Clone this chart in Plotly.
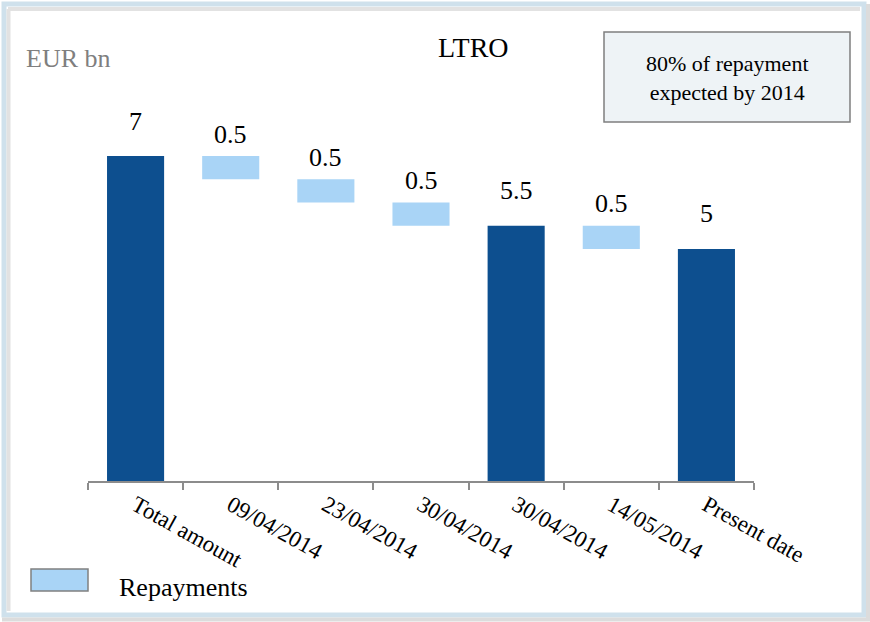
import plotly.graph_objects as go

# category labels (positions 0..6 on the x axis)
categories = ["Total amount", "09/04/2014", "23/04/2014", "30/04/2014",
              "30/04/2014", "14/05/2014", "Present date"]

# stock bars (start from zero)
stock_idx = [0, 4, 6]
stock_values = [7, 5.5, 5]

# repayment bars (floating)
repay_idx = [1, 2, 3, 5]
repay_base = [6.5, 6.0, 5.5, 5.0]
repay_values = [0.5, 0.5, 0.5, 0.5]

DARK = "#0D4F8F"
LIGHT = "#A9D4F6"
FONT = "Liberation Serif"

# plot area in pixels, used to place the frame / notes in paper coords
W, H = 870, 622
L, R, T, B = 88, 116, 40, 141
PW, PH = W - L - R, H - T - B


def px(x):
    return (x - L) / PW


def py(y):
    return (H - B - y) / PH


fig = go.Figure()

fig.add_trace(go.Bar(
    x=stock_idx, y=stock_values, base=[0] * len(stock_values),
    marker=dict(color=DARK, line=dict(width=0)),
    width=0.6, showlegend=False, hoverinfo="skip",
))

fig.add_trace(go.Bar(
    x=repay_idx, y=repay_values, base=repay_base,
    marker=dict(color=LIGHT, line=dict(width=0)),
    width=0.6, showlegend=False, hoverinfo="skip",
))

shapes = [
    # outer frame
    dict(type="rect", xref="paper", yref="paper", layer="below",
         x0=px(4), x1=px(864), y0=py(615), y1=py(4),
         line=dict(color="#CFE1EC", width=5), fillcolor="rgba(0,0,0,0)"),
    # inner shadow
    dict(type="line", xref="paper", yref="paper", layer="below",
         x0=px(8), x1=px(860), y0=py(9), y1=py(9),
         line=dict(color="#E2E2E2", width=4)),
    dict(type="line", xref="paper", yref="paper", layer="below",
         x0=px(8.5), x1=px(8.5), y0=py(9), y1=py(611),
         line=dict(color="#E2E2E2", width=4)),
    dict(type="line", xref="paper", yref="paper", layer="below",
         x0=px(2), x1=px(870), y0=py(619.5), y1=py(619.5),
         line=dict(color="#DCDCDC", width=4)),
    dict(type="line", xref="paper", yref="paper", layer="below",
         x0=px(868), x1=px(868), y0=py(4), y1=py(620),
         line=dict(color="#DCDCDC", width=4)),
    # note box
    dict(type="rect", xref="paper", yref="paper",
         x0=px(604), x1=px(850), y0=py(122), y1=py(32),
         line=dict(color="#7F7F7F", width=1.5), fillcolor="#EEF3F6"),
    # legend key
    dict(type="rect", xref="paper", yref="paper",
         x0=px(31), x1=px(88), y0=py(591), y1=py(569),
         line=dict(color="#808080", width=1.5), fillcolor=LIGHT),
]

annotations = [
    dict(text="LTRO", xref="paper", yref="paper", x=px(473), y=py(48),
         xanchor="center", yanchor="middle", showarrow=False,
         font=dict(family=FONT, size=28, color="black")),
    dict(text="EUR bn", xref="paper", yref="paper", x=px(24), y=py(58),
         xanchor="left", yanchor="middle", showarrow=False,
         font=dict(family=FONT, size=26, color="#7F7F7F")),
    dict(text="80% of repayment<br>expected by 2014", xref="paper", yref="paper",
         x=px(727), y=py(78), xanchor="center", yanchor="middle", showarrow=False,
         font=dict(family=FONT, size=22, color="black")),
    dict(text="Repayments", xref="paper", yref="paper", x=px(117), y=py(587),
         xanchor="left", yanchor="middle", showarrow=False,
         font=dict(family=FONT, size=26, color="black")),
]

# value labels above each bar
for i, v in zip(stock_idx, stock_values):
    annotations.append(dict(x=i, y=v, xref="x", yref="y", text=f"{v:g}",
                            showarrow=False, xanchor="center", yanchor="middle",
                            yshift=35, font=dict(family=FONT, size=26, color="black")))
for i, b, v in zip(repay_idx, repay_base, repay_values):
    annotations.append(dict(x=i, y=b + v, xref="x", yref="y", text=f"{v:g}",
                            showarrow=False, xanchor="center", yanchor="middle",
                            yshift=22, font=dict(family=FONT, size=26, color="black")))

fig.update_layout(
    width=W, height=H,
    margin=dict(l=L, r=R, t=T, b=B),
    paper_bgcolor="white", plot_bgcolor="white",
    barmode="overlay",
    shapes=shapes, annotations=annotations,
    xaxis=dict(
        range=[-0.5, 6.5], tickmode="array",
        tickvals=list(range(len(categories))), ticktext=categories,
        tickangle=29, ticks="", showgrid=False, zeroline=False,
        showline=True, linecolor="#8C8C8C", linewidth=1.5,
        tickfont=dict(family=FONT, size=23, color="black"),
        minor=dict(tickmode="array", tickvals=[i - 0.5 for i in range(len(categories) + 1)],
                   ticks="outside", ticklen=7, tickcolor="#8C8C8C", tickwidth=1.5,
                   showgrid=False),
        fixedrange=True,
    ),
    yaxis=dict(range=[0, 9.5], visible=False, fixedrange=True),
)

fig.write_html("out.html", config={"displayModeBar": False},
               post_script="document.body.style.margin='0';")
